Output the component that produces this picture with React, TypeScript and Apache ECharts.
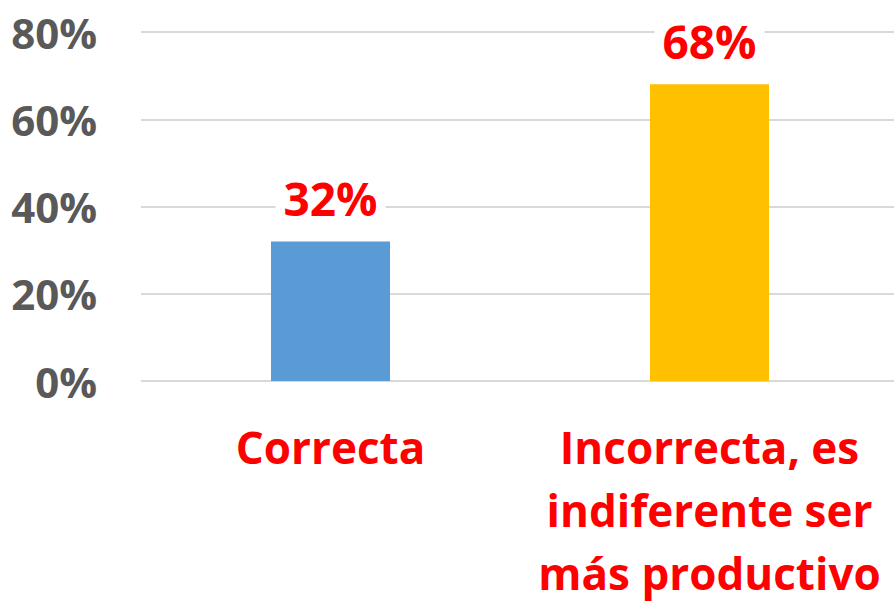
import React, { useEffect, useRef } from "react";
import * as echarts from "echarts";

const categories: string[] = ["Correcta", "Incorrecta, es\nindiferente ser\nmás productivo"];
const values: number[] = [32, 68];
const barColors: string[] = ["#5B9BD5", "#FFC000"];
const yTicks: number[] = [0, 20, 40, 60, 80];

export default function App() {
  const ref = useRef<HTMLDivElement>(null);
  useEffect(() => {
    if (!ref.current) return;
    const chart = echarts.init(ref.current, undefined, { renderer: "svg" });
    const font = "'Open Sans', 'Liberation Sans', sans-serif";
    chart.setOption({
      animation: false,
      backgroundColor: "#ffffff",
      grid: { left: 141, right: 0, top: 32, bottom: 224, containLabel: false },
      xAxis: {
        type: "category",
        data: categories,
        axisLine: { show: false },
        axisTick: { show: false },
        axisLabel: {
          interval: 0,
          color: "#FF0000",
          fontFamily: font,
          fontWeight: "bold",
          fontSize: 44,
          lineHeight: 63,
          margin: 34,
        },
      },
      yAxis: {
        type: "value",
        min: yTicks[0],
        max: yTicks[yTicks.length - 1],
        interval: 20,
        axisLine: { show: false },
        axisTick: { show: false },
        splitLine: { lineStyle: { color: "#D9D9D9", width: 2 } },
        axisLabel: {
          formatter: "{value}%",
          color: "#595959",
          fontFamily: font,
          fontWeight: "bold",
          fontSize: 42,
          margin: 44,
        },
      },
      series: [
        {
          type: "bar",
          barWidth: 119,
          data: values.map((v, i) => ({ value: v, itemStyle: { color: barColors[i] } })),
          label: {
            show: true,
            position: "top",
            distance: 20,
            formatter: "{c}%",
            color: "#FF0000",
            fontFamily: font,
            fontWeight: "bold",
            fontSize: 46,
            backgroundColor: "#ffffff",
            padding: [0, 8, 0, 8],
          },
        },
      ],
    });
    return () => chart.dispose();
  }, []);
  return (
    <div style={{ position: "absolute", left: 0, top: 0, width: 894, height: 605, overflow: "hidden" }}>
      <div ref={ref} style={{ width: 899, height: 605 }} />
    </div>
  );
}
